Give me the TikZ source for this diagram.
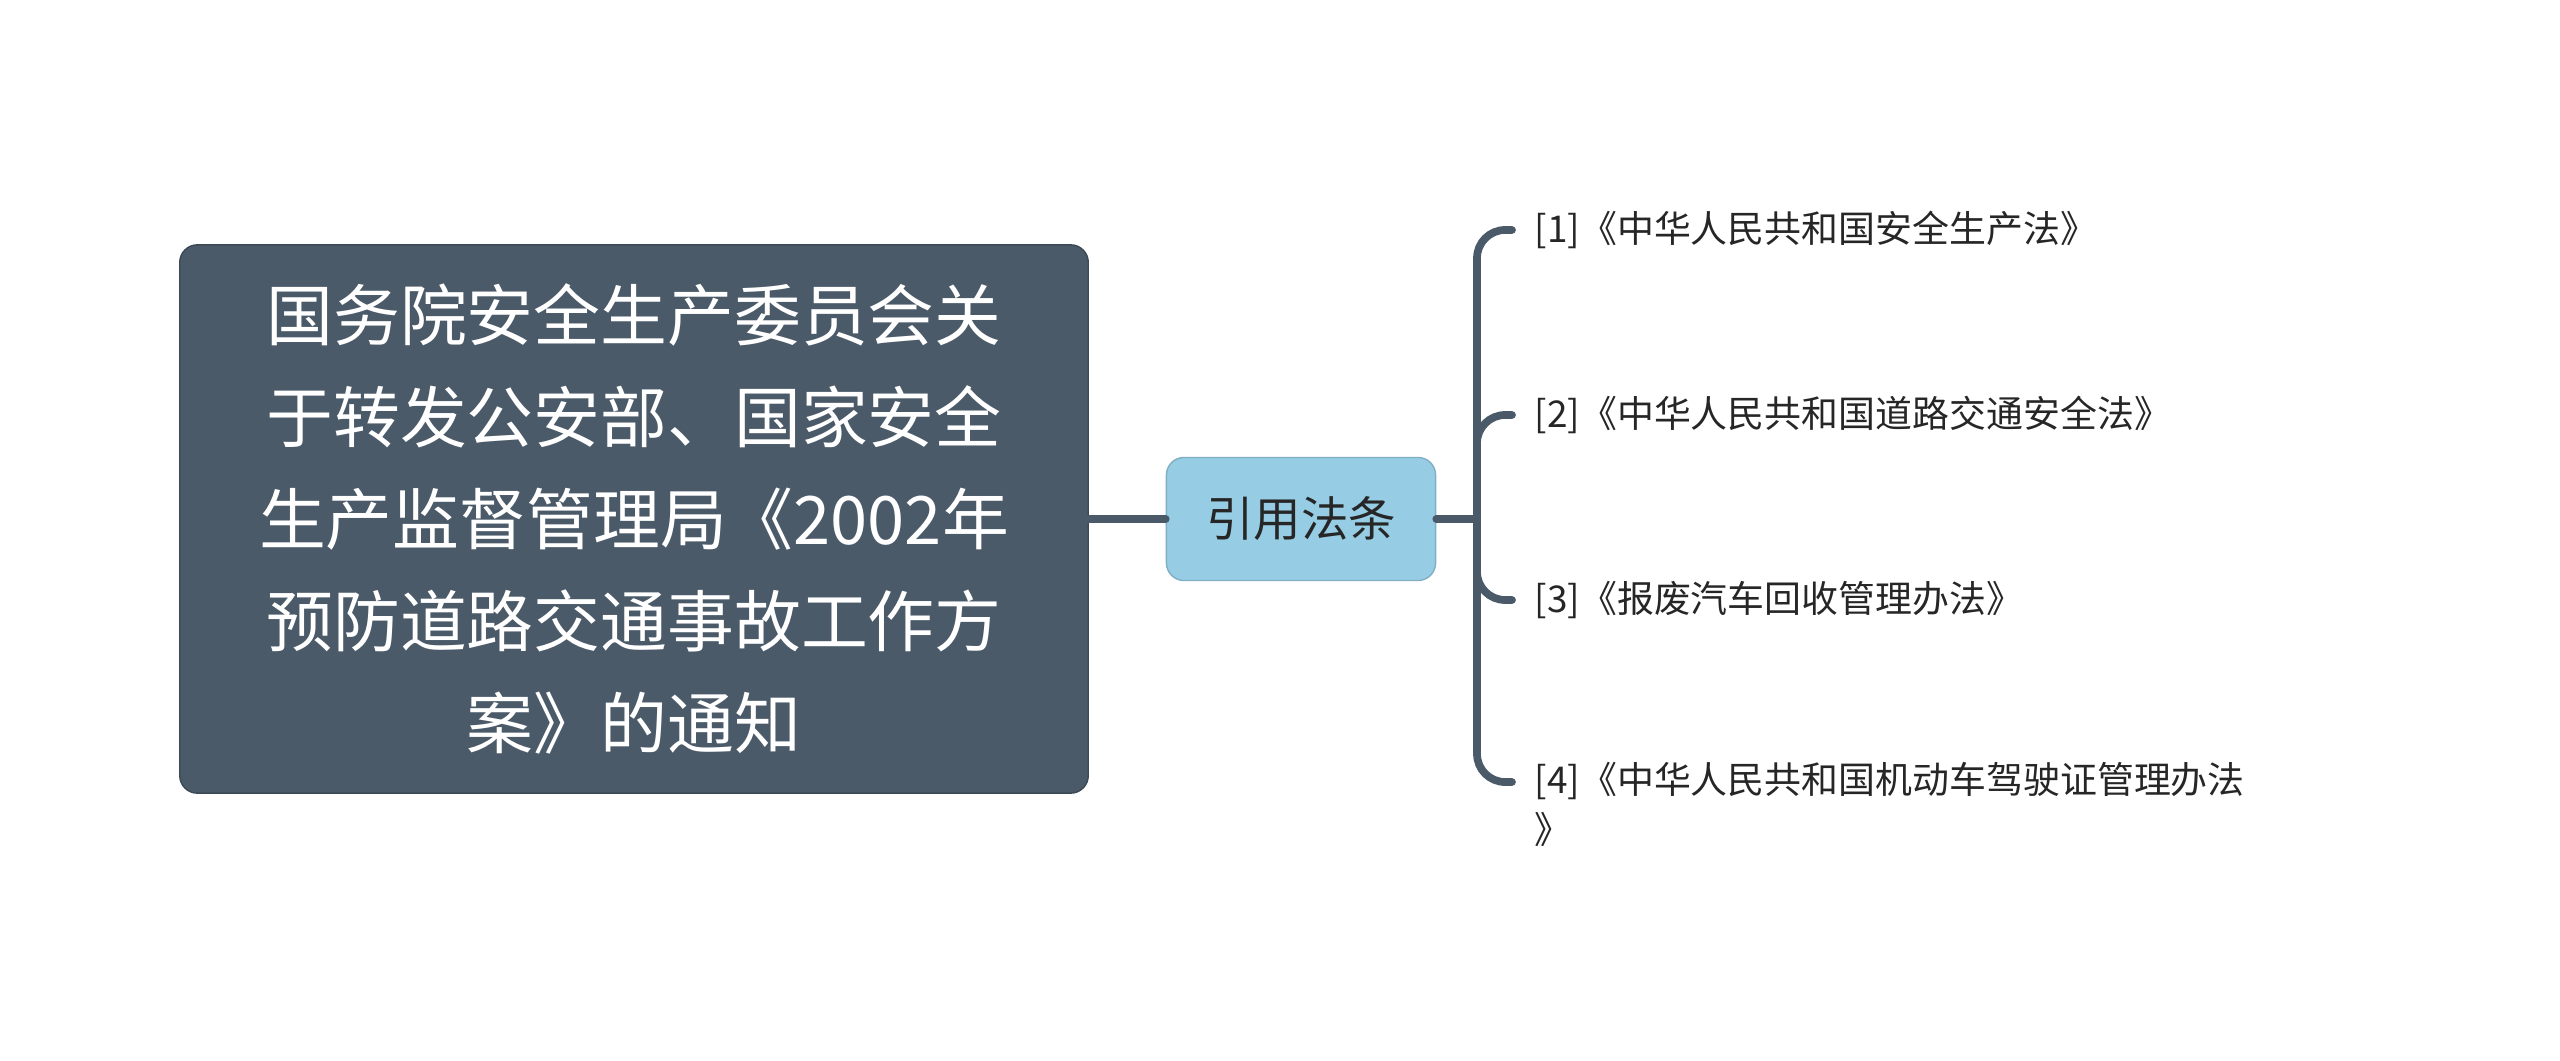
\documentclass[tikz,border=0pt]{standalone}
\usepackage{fontspec}
\setmainfont{Noto Sans CJK SC}
\begin{document}
\begin{tikzpicture}[x=0.01cm,y=0.01cm,
  ln/.style={draw=lc,line width=2.2pt,line cap=round,rounded corners=8pt},
  leaf/.style={anchor=west,font=\fontsize{10.5pt}{14pt}\selectfont,text=black!85,inner sep=0pt,align=left}]
\definecolor{lc}{HTML}{4B5A69}
\definecolor{mid}{HTML}{96CDE5}
\useasboundingbox (0,0) rectangle (2560,1060);
\node[fill=lc,draw=lc!80!black,rounded corners=5pt,minimum width=9.08cm,minimum height=5.48cm,
  text=white,align=center,font=\fontsize{19pt}{29pt}\selectfont] (root) at (634,541)
  {国务院安全生产委员会关\\于转发公安部、国家安全\\生产监督管理局《2002年\\预防道路交通事故工作方\\案》的通知};
\node[fill=mid,draw=mid!85!black,rounded corners=5pt,minimum width=2.69cm,minimum height=1.23cm,
  font=\fontsize{13.5pt}{16pt}\selectfont,text=black!85] (mid) at (1301,541) {引用法条};
\node[leaf] (l1) at (1534,830) {[1]《中华人民共和国安全生产法》};
\node[leaf] (l2) at (1534,645) {[2]《中华人民共和国道路交通安全法》};
\node[leaf] (l3) at (1534,460) {[3]《报废汽车回收管理办法》};
\node[leaf,anchor=north west] (l4) at (1534,298) {[4]《中华人民共和国机动车驾驶证管理办法\\》};
\coordinate (bx) at (1477,541);
\draw[ln] (root.east) -- (mid.west);
\draw[ln] (mid.east) -- (bx);
\draw[ln] (l1.west) ++(-22,0) -| (bx);
\draw[ln] (l2.west) ++(-22,0) -| (bx);
\draw[ln] (l3.west) ++(-22,0) -| (bx);
\draw[ln] ([xshift=-0.22cm,yshift=-0.2cm]l4.north west) -| (bx);
\end{tikzpicture}
\end{document}
